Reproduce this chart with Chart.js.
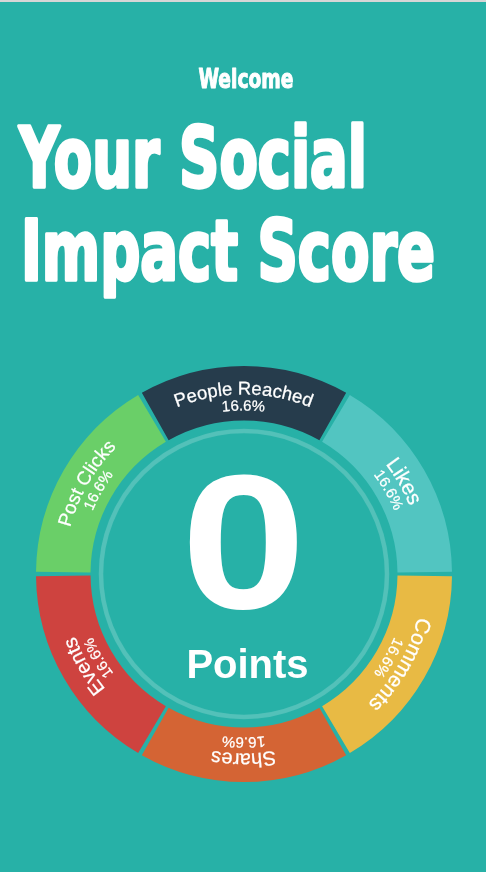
<!DOCTYPE html>
<html>
<head>
<meta charset="utf-8">
<script src="https://cdn.jsdelivr.net/npm/chart.js@4.4.0/dist/chart.umd.min.js"></script>
<style>
  html, body { margin:0; padding:0; width:486px; height:872px; overflow:hidden; background:#27b1a7; }
  #topline { position:absolute; left:0; top:0; width:486px; height:2px; background:#d6d6d6; }
  #wrap { position:absolute; left:35.5px; top:366px; width:416px; height:416px; }
  #overlay { position:absolute; left:0; top:0; width:486px; height:872px; pointer-events:none; }
  .title { font-family:'Liberation Sans Narrow','DejaVu Sans Condensed','Liberation Sans',sans-serif; font-weight:bold; fill:#fff; stroke:#fff; stroke-linejoin:round; }
  .lbl { font-family:'Liberation Sans',Arial,Helvetica,sans-serif; fill:#fff; stroke:#fff; stroke-width:0.25; }
  .big { font-family:'Liberation Sans',Arial,Helvetica,sans-serif; font-weight:bold; fill:#fff; }
</style>
</head>
<body>
<div id="topline"></div>
<div id="wrap"><canvas id="c"></canvas></div>
<svg id="overlay" xmlns="http://www.w3.org/2000/svg" width="486" height="872">
  <text class="title" x="246" y="88" font-size="27" text-anchor="middle" textLength="95" lengthAdjust="spacingAndGlyphs" stroke-width="1">Welcome</text>
  <text class="title" x="19" y="187" font-size="84" textLength="348" lengthAdjust="spacingAndGlyphs" stroke-width="3.5">Your Social</text>
  <text class="title" x="21" y="280" font-size="84" textLength="414" lengthAdjust="spacingAndGlyphs" stroke-width="3.5">Impact Score</text>
  <g id="arcLabels"></g>
  <text id="scoreText" class="big" x="243.5" y="608" font-size="192" text-anchor="middle" textLength="125" lengthAdjust="spacingAndGlyphs"></text>
  <text id="unitText" class="big" x="247.5" y="678" font-size="40" text-anchor="middle"></text>
</svg>
<script>
// ---- data ----
const categories = ['People Reached', 'Likes', 'Comments', 'Shares', 'Events', 'Post Clicks'];
const values = [1, 1, 1, 1, 1, 1];
const score = 0;
const scoreUnit = 'Points';

// ---- styles ----
const sliceColors = ['#263c4c', '#52c5c1', '#e8ba44', '#d46434', '#ce433f', '#6acf68'];
const nameFontSizes = [18.5, 21, 21, 20, 20, 19];

const total = values.reduce((a, b) => a + b, 0);
const pctLabels = values.map(v => (Math.floor(v / total * 1000) / 10).toFixed(1) + '%');

const SVGNS = 'http://www.w3.org/2000/svg';

const ringPlugin = {
  id: 'innerRing',
  afterDatasetsDraw(chart) {
    const arc = chart.getDatasetMeta(0).data[0];
    if (!arc) return;
    const ctx = chart.ctx;
    ctx.save();
    ctx.beginPath();
    ctx.arc(arc.x, arc.y, arc.innerRadius - 7, 0, Math.PI * 2);
    ctx.lineWidth = 4.5;
    ctx.strokeStyle = 'rgba(255,255,255,0.19)';
    ctx.shadowColor = 'rgba(255,255,255,0.15)';
    ctx.shadowBlur = 3;
    ctx.stroke();
    ctx.restore();
  }
};

const chart = new Chart(document.getElementById('c'), {
  type: 'doughnut',
  data: {
    labels: categories,
    datasets: [{
      data: values,
      backgroundColor: sliceColors,
      borderWidth: 0,
      spacing: 7
    }]
  },
  options: {
    responsive: true,
    maintainAspectRatio: false,
    animation: false,
    events: [],
    rotation: -30,
    cutout: 150,
    layout: { padding: 0 },
    plugins: { legend: { display: false }, tooltip: { enabled: false } }
  },
  plugins: [ringPlugin]
});

// ---- curved labels (real SVG text on paths built from the chart's arcs) ----
function buildLabels() {
  const g = document.getElementById('arcLabels');
  g.innerHTML = '';
  const canvasRect = chart.canvas.getBoundingClientRect();
  const defs = document.createElementNS(SVGNS, 'defs');
  g.appendChild(defs);
  const meta = chart.getDatasetMeta(0);
  meta.data.forEach((arc, i) => {
    const cx = canvasRect.left + arc.x;
    const cy = canvasRect.top + arc.y;
    const mid = (arc.startAngle + arc.endAngle) / 2;
    const make = (r, id) => {
      const a0 = mid - 1.2, a1 = mid + 1.2;
      const p = document.createElementNS(SVGNS, 'path');
      const x0 = cx + r * Math.cos(a0), y0 = cy + r * Math.sin(a0);
      const x1 = cx + r * Math.cos(a1), y1 = cy + r * Math.sin(a1);
      p.setAttribute('d', `M ${x0} ${y0} A ${r} ${r} 0 0 1 ${x1} ${y1}`);
      p.setAttribute('id', id);
      p.setAttribute('fill', 'none');
      defs.appendChild(p);
    };
    make(arc.innerRadius + 29.5, 'nameArc' + i);
    make(arc.innerRadius + 13.5, 'pctArc' + i);
    const addText = (pathId, str, size) => {
      const t = document.createElementNS(SVGNS, 'text');
      t.setAttribute('class', 'lbl');
      t.setAttribute('font-size', size);
      const tp = document.createElementNS(SVGNS, 'textPath');
      tp.setAttribute('href', '#' + pathId);
      tp.setAttribute('startOffset', '50%');
      tp.setAttribute('text-anchor', 'middle');
      tp.textContent = str;
      t.appendChild(tp);
      g.appendChild(t);
    };
    addText('nameArc' + i, categories[i], nameFontSizes[i]);
    addText('pctArc' + i, pctLabels[i], 15);
  });
  document.getElementById('scoreText').textContent = String(score);
  document.getElementById('unitText').textContent = scoreUnit;
}
buildLabels();
</script>
</body>
</html>
